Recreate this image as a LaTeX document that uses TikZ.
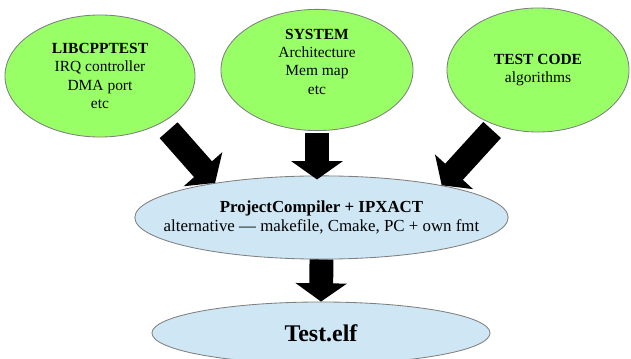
\documentclass[tikz,border=0pt]{standalone}
\usepackage{fontspec}
\setmainfont{Liberation Serif}
\usetikzlibrary{arrows.meta,shapes.geometric}
\definecolor{blobgreen}{HTML}{99FF66}
\definecolor{blobblue}{HTML}{CFE7F5}
\definecolor{rimgray}{HTML}{7F7F7F}

\begin{document}
\begin{tikzpicture}[x=0.025cm,y=-0.025cm,
 blob/.style={ellipse,draw=rimgray,line width=0.6pt,fill=blobgreen,inner sep=0pt},
 flow/.style={blob,fill=blobblue},
 txt/.style={align=center,inner sep=0pt,font=\fontsize{11}{13}\selectfont},
 bigarrow/.style={line width=17pt,-{Triangle[length=13pt,width=36pt]}}]
\useasboundingbox (0,0) rectangle (631,359);
% the three inputs
\node[blob,minimum width=4.75cm,minimum height=3.05cm] (lib) at (100,76) {};
\node[blob,minimum width=4.8cm,minimum height=3.03cm] (sys) at (317,70) {};
\node[blob,minimum width=4.55cm,minimum height=3.1cm] (code) at (538,70) {};
\node[txt] (libtext) at (lib) {\textbf{LIBCPPTEST}\\IRQ controller\\DMA port\\etc};
\node[txt,yshift=6pt] (systext) at (sys) {\textbf{SYSTEM}\\Architecture\\Mem map\\etc};
\node[txt] (codetext) at (code) {\textbf{TEST CODE}\\algorithms};
% build step and result
\node[flow,minimum width=9.33cm,minimum height=2.08cm] (pc) at (321.5,217.5) {};
\node[txt,font=\fontsize{12}{14}\selectfont] (pctext) at (pc)
 {\textbf{ProjectCompiler + IPXACT}\\alternative --- makefile, Cmake, PC + own fmt};
\node[flow,minimum width=8.45cm,minimum height=1.55cm,font=\fontsize{17}{20}\selectfont\bfseries] (elf) at (321,333) {Test.elf};
% arrows
\draw[bigarrow,shorten <=0.25cm] (lib.-37) -- (pc.162);
\draw[bigarrow,shorten <=0.05cm,shorten >=-0.1cm] (sys.south) -- (sys.south |- pc.north);
\draw[bigarrow,shorten <=0.15cm] (code.-127.5) -- (pc.15);
\draw[bigarrow] (pc.south) -- (elf.north);
\end{tikzpicture}
\end{document}
